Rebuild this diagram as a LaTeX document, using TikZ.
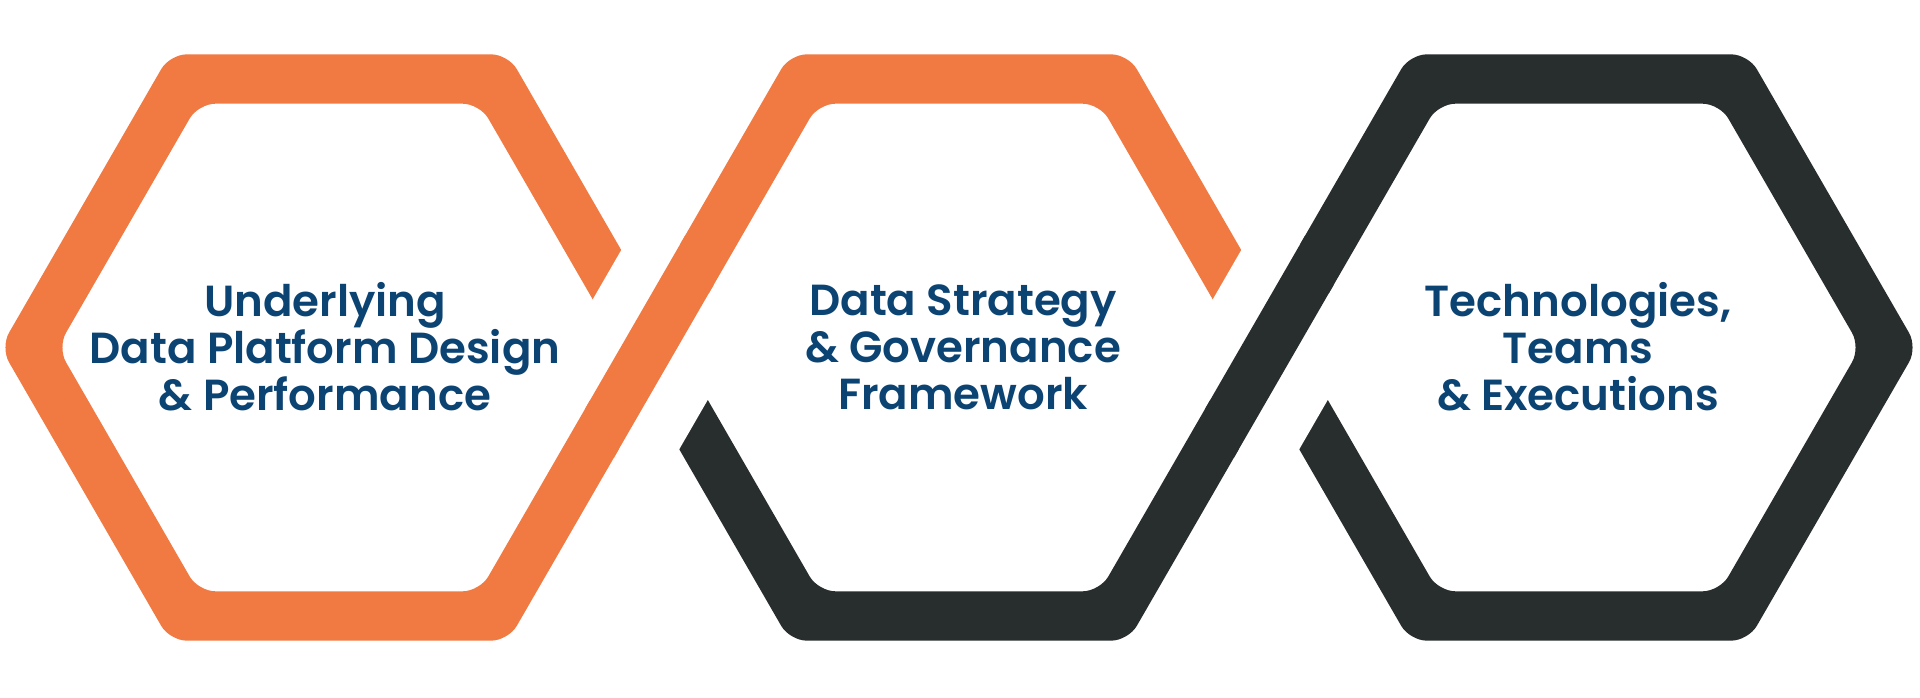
\documentclass[tikz,border=0pt]{standalone}
\usepackage{fontspec}
\newfontfamily\popfont{Poppins SemiBold}
\definecolor{hexorange}{HTML}{F17A43}
\definecolor{hexdark}{HTML}{282D2D}
\definecolor{textblue}{HTML}{0B4373}
% regular hexagon (flat top) centred at (#1, 347.5) with circumradius #2, starting at top-edge midpoint
\newcommand\hexpath[2]{({#1},{347.5-0.8660254*#2}) -- ({#1+#2/2},{347.5-0.8660254*#2}) -- ({#1+#2},347.5) -- ({#1+#2/2},{347.5+0.8660254*#2}) -- ({#1-#2/2},{347.5+0.8660254*#2}) -- ({#1-#2},347.5) -- ({#1-#2/2},{347.5-0.8660254*#2}) -- cycle}
% ring of the hexagon centred at x=#1
\newcommand\ringpath[1]{\hexpath{#1}{338.5} \hexpath{#1}{281.5}}
% point given by the two diagonal coordinates a (along "/" lines) and b (along "\" lines)
\newcommand\ab[2]{({((#1)+(#2))/2},{347.5+0.8660254*((#1)-(#2))})}
\tikzset{
  ring/.style={even odd rule, rounded corners=17pt},
  label/.style={font=\popfont\fontsize{43.5}{47}\selectfont, text=textblue, align=center, inner sep=0pt}
}
\begin{document}
\begin{tikzpicture}[x=1pt,y=-1pt]
\useasboundingbox (0,0) rectangle (1920,698);
\fill[white] (0,0) rectangle (1920,698);
% ring 1 (orange)
\fill[hexorange, ring] \ringpath{339};
% ring 2 (orange upper half, dark lower half)
\begin{scope}
  \clip (0,0) rectangle (1920,347.5);
  \fill[hexorange, ring] \ringpath{959};
\end{scope}
\begin{scope}
  \clip (0,347.5) rectangle (1920,698);
  \fill[hexdark, ring] \ringpath{959};
\end{scope}
% ring 3 (dark)
\fill[hexdark, ring] \ringpath{1579};
% crossing 1: gap in the under strip, orange strip passes over
\fill[white] \ab{565}{560} -- \ab{738}{560} -- \ab{738}{740} -- \ab{565}{740} -- cycle;
\fill[hexorange] \ab{620.5}{550} -- \ab{677.5}{550} -- \ab{677.5}{750} -- \ab{620.5}{750} -- cycle;
% crossing 2: gap in the under strip, dark strip passes over
\fill[white] \ab{1185}{1180} -- \ab{1358}{1180} -- \ab{1358}{1360} -- \ab{1185}{1360} -- cycle;
\fill[hexdark] \ab{1240.5}{1170} -- \ab{1297.5}{1170} -- \ab{1297.5}{1370} -- \ab{1240.5}{1370} -- cycle;
% labels
\node[label] (t1) at (325,347) {Underlying\\Data Platform Design\\\& Performance};
\node[label] (t2) at (963,347) {Data Strategy\\\& Governance\\Framework};
\node[label] (t3) at (1578,347) {Technologies,\\Teams\\\& Executions};
\end{tikzpicture}
\end{document}
